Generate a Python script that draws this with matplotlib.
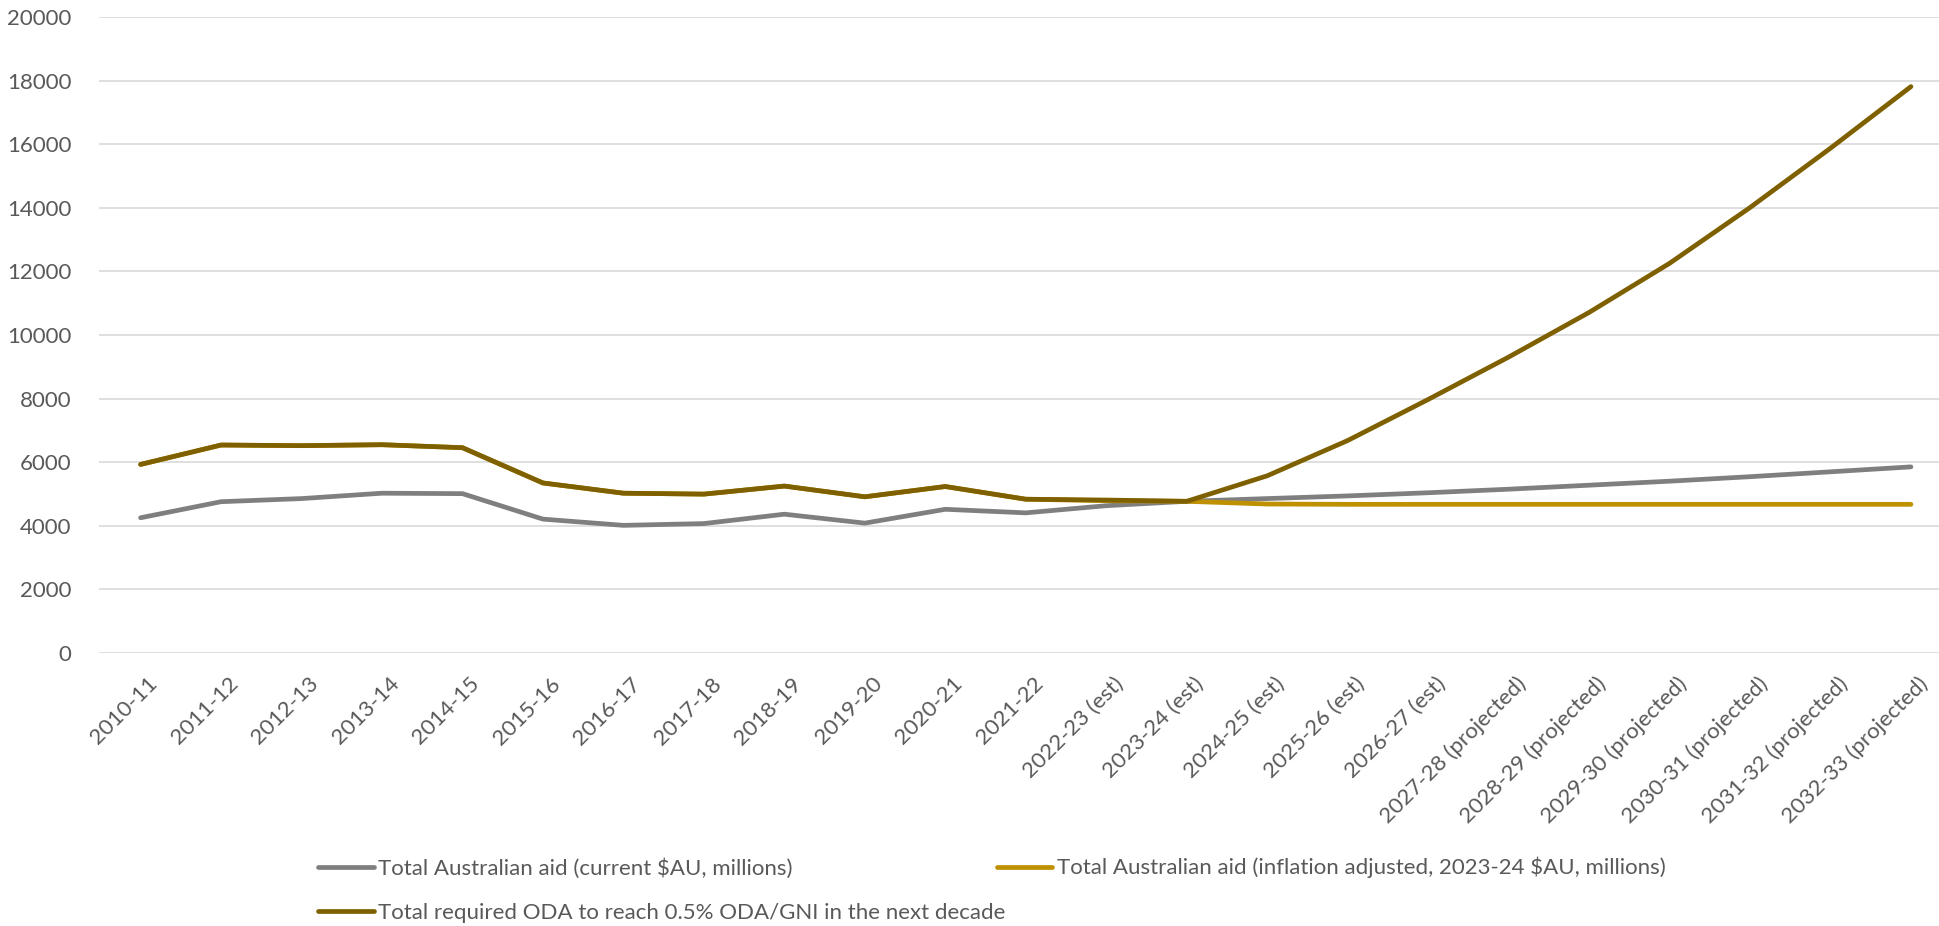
import matplotlib
matplotlib.use("Agg")
import matplotlib.pyplot as plt
import matplotlib.transforms as mtransforms

categories = ["2010-11", "2011-12", "2012-13", "2013-14", "2014-15", "2015-16",
              "2016-17", "2017-18", "2018-19", "2019-20", "2020-21", "2021-22",
              "2022-23 (est)", "2023-24 (est)", "2024-25 (est)", "2025-26 (est)",
              "2026-27 (est)", "2027-28 (projected)", "2028-29 (projected)",
              "2029-30 (projected)", "2030-31 (projected)", "2031-32 (projected)",
              "2032-33 (projected)"]

aid_current = [4253, 4758, 4856, 5025, 5011, 4210, 4014, 4070, 4365, 4084, 4519, 4407,
               4632, 4770, 4856, 4940, 5039, 5151, 5277, 5403, 5544, 5698, 5853]

aid_inflation_adj = [5930, 6540, 6520, 6550, 6456, 5347, 5025, 4996, 5249, 4912, 5235, 4836,
                     4790, 4770, 4685, 4675, 4675, 4675, 4675, 4675, 4675, 4675, 4675]

required_oda = [5930, 6540, 6520, 6550, 6456, 5347, 5025, 4996, 5249, 4912, 5235, 4836,
                4810, 4770, 5572, 6681, 7972, 9305, 10709, 12253, 14007, 15874, 17811]

labels = ["Total Australian aid (current $AU, millions)",
          "Total Australian aid (inflation adjusted, 2023-24 $AU, millions)",
          "Total required ODA to reach 0.5% ODA/GNI in the next decade"]
colors = ["#7f7f7f", "#bf9000", "#7f6000"]
yticks = [0, 2000, 4000, 6000, 8000, 10000, 12000, 14000, 16000, 18000, 20000]

plt.rcParams['font.family'] = ['Lato', 'DejaVu Sans']
text_color = "#595959"
fs = 16

W, H = 1939, 926
fig = plt.figure(figsize=(W / 100, H / 100), dpi=100)
left_px, right_px, top_px, bottom_px = 99, 1939, 17, 653
ax = fig.add_axes([left_px / W, 1 - bottom_px / H, (right_px - left_px) / W, (bottom_px - top_px) / H])

x = list(range(len(categories)))
lw = 3.4
l1, = ax.plot(x, aid_current, color=colors[0], lw=lw, solid_capstyle='round', solid_joinstyle='round', zorder=3)
l2, = ax.plot(x, aid_inflation_adj, color=colors[1], lw=lw, solid_capstyle='round', solid_joinstyle='round', zorder=4)
l3, = ax.plot(x, required_oda, color=colors[2], lw=lw, solid_capstyle='round', solid_joinstyle='round', zorder=5)

ax.set_ylim(0, 20000)
ax.set_yticks(yticks)
ax.set_yticklabels([str(v) for v in yticks])
xmin = -(140.6 - left_px) / 80.47
ax.set_xlim(xmin, xmin + (right_px - left_px) / 80.47)
ax.set_xticks(x)
ax.set_xticklabels(categories, rotation=45, ha='right', va='top', rotation_mode='anchor')

ax.grid(axis='y', color='#d9d9d9', lw=1.2, zorder=0)
ax.set_axisbelow(True)
for s in ax.spines.values():
    s.set_visible(False)
ax.tick_params(axis='both', length=0, colors=text_color, labelsize=fs)
ax.tick_params(axis='y', pad=20)
ax.tick_params(axis='x', pad=12)

offset = mtransforms.ScaledTranslation(7 / 100, -4 / 100, fig.dpi_scale_trans)
for lab in ax.get_xticklabels():
    lab.set_transform(lab.get_transform() + offset)

leg = fig.legend([l1, l3, l2], [labels[0], labels[2], labels[1]], ncol=2,
                 loc='upper left', bbox_to_anchor=(318 / W, 1 - 857 / H),
                 frameon=False, fontsize=fs, handlelength=2.5, handletextpad=0.2,
                 columnspacing=-0.38, labelspacing=1.1, borderaxespad=0, borderpad=0)
for t in leg.get_texts():
    t.set_color(text_color)

fig.savefig("out.png", dpi=100, facecolor="white")
